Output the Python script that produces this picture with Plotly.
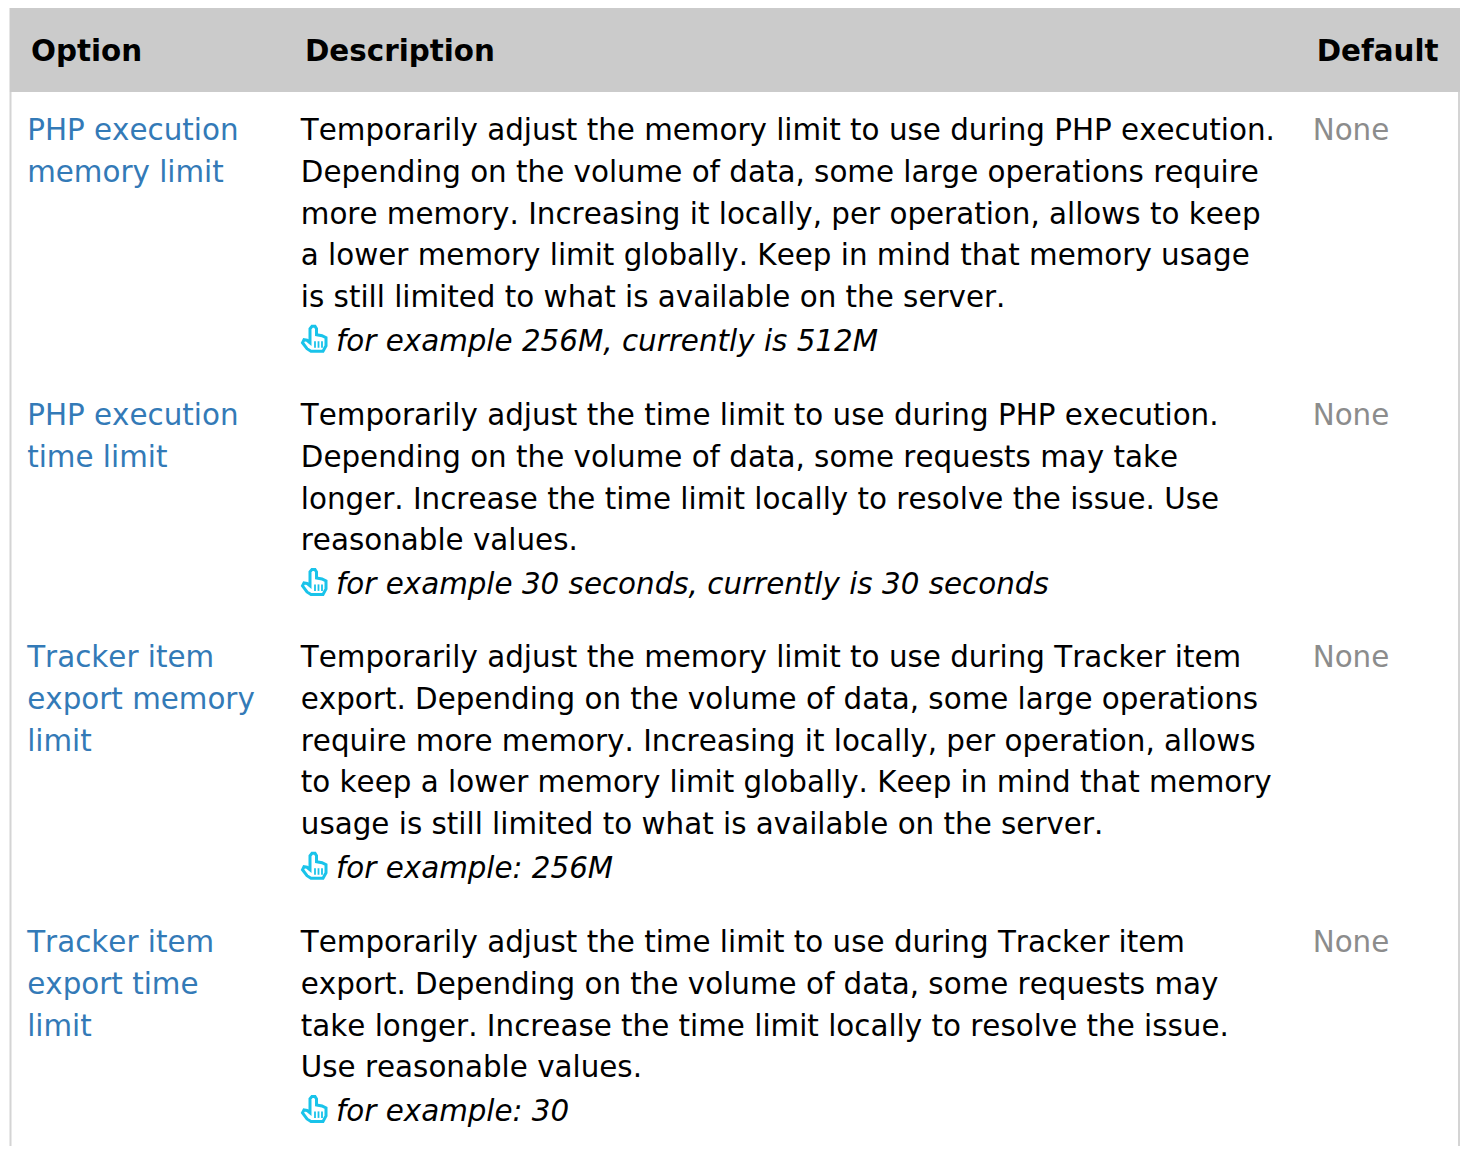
import plotly.graph_objects as go

OPTION_HEADER = "Option"
DESC_HEADER = "Description"
DEFAULT_HEADER = "Default"

option_lines = [
    ["PHP execution", "memory limit"],
    ["PHP execution", "time limit"],
    ["Tracker item", "export memory", "limit"],
    ["Tracker item", "export time", "limit"],
]
desc_lines = [
    ["Temporarily adjust the memory limit to use during PHP execution.",
     "Depending on the volume of data, some large operations require",
     "more memory. Increasing it locally, per operation, allows to keep",
     "a lower memory limit globally. Keep in mind that memory usage",
     "is still limited to what is available on the server."],
    ["Temporarily adjust the time limit to use during PHP execution.",
     "Depending on the volume of data, some requests may take",
     "longer. Increase the time limit locally to resolve the issue. Use",
     "reasonable values."],
    ["Temporarily adjust the memory limit to use during Tracker item",
     "export. Depending on the volume of data, some large operations",
     "require more memory. Increasing it locally, per operation, allows",
     "to keep a lower memory limit globally. Keep in mind that memory",
     "usage is still limited to what is available on the server."],
    ["Temporarily adjust the time limit to use during Tracker item",
     "export. Depending on the volume of data, some requests may",
     "take longer. Increase the time limit locally to resolve the issue.",
     "Use reasonable values."],
]
examples = [
    "for example 256M, currently is 512M",
    "for example 30 seconds, currently is 30 seconds",
    "for example: 256M",
    "for example: 30",
]
default_values = ["None", "None", "None", "None"]

row_starts = [132.5, 417.5, 659.5, 944.5]
LINE = 41.85
FS = 29.37
FONT = "DejaVu Sans"
X_OPT, X_DESC, X_DEF, X_ICON = 27.2, 300.8, 1312.7, 301
X_EX = 336

fig = go.Figure()

def add_text(xs, ys, texts, color, size=FS, family=FONT, bold=False, italic=False):
    fig.add_trace(go.Scatter(
        x=xs, y=ys, text=texts, mode="text", textposition="middle right",
        textfont=dict(family=family, size=size, color=color,
                      weight="bold" if bold else "normal",
                      style="italic" if italic else "normal"),
        hoverinfo="skip", showlegend=False, cliponaxis=True))

add_text([31, 305, 1316.7], [54] * 3, [OPTION_HEADER, DESC_HEADER, DEFAULT_HEADER], "#000000", bold=True)

ox, oy, ot, dx, dy, dt, ex, ey, et, nx, ny, nt = [], [], [], [], [], [], [], [], [], [], [], []
icon_ys = []
for r, start in enumerate(row_starts):
    for i, s in enumerate(option_lines[r]):
        ox.append(X_OPT); oy.append(start + i * LINE); ot.append(s)
    for i, s in enumerate(desc_lines[r]):
        dx.append(X_DESC); dy.append(start + i * LINE); dt.append(s)
    y_ex = start + len(desc_lines[r]) * LINE + 1.5
    ex.append(X_EX); ey.append(y_ex); et.append(examples[r])
    icon_ys.append(y_ex)
    nx.append(X_DEF); ny.append(start); nt.append(default_values[r])

add_text(ox, oy, ot, "#337ab7")
add_text(dx, dy, dt, "#000000")
add_text(ex, ey, et, "#000000", italic=True)
add_text(nx, ny, nt, "#8c8c8c")

shapes = [
    dict(type="rect", x0=9.5, x1=1460, y0=8, y1=92, fillcolor="#cbcbcb", line_width=0, layer="below"),
    dict(type="rect", x0=9.5, x1=11.5, y0=92, y1=1146, fillcolor="#d4d4d4", line_width=0, layer="below"),
    dict(type="rect", x0=1458, x1=1460, y0=92, y1=1146, fillcolor="#d4d4d4", line_width=0, layer="below"),
]
for yc in icon_ys:
    x0 = X_ICON
    y0 = yc - 18.5
    pts = [(9, 16), (9, 4), (11, 1.5), (14, 1.5), (15.5, 4), (15.5, 10), (21, 11), (25, 13), (25, 21),
           (22, 26.5), (10, 26.5), (6, 24), (1.5, 18), (3, 15), (6, 15.5), (9, 18)]
    path = "M " + " L ".join(f"{x0+a},{y0+b}" for a, b in pts) + " Z"
    shapes.append(dict(type="path", path=path, line=dict(color="#19c3ea", width=3), fillcolor="rgba(0,0,0,0)"))
    for a in (14, 17.5, 21):
        shapes.append(dict(type="line", x0=x0 + a, x1=x0 + a, y0=y0 + 16.5, y1=y0 + 23,
                           line=dict(color="#19c3ea", width=1.8)))

fig.update_layout(
    width=1469, height=1164, autosize=False,
    margin=dict(l=0, r=0, t=0, b=0),
    paper_bgcolor="#ffffff", plot_bgcolor="#ffffff",
    xaxis=dict(range=[0, 1469], visible=False, fixedrange=True),
    yaxis=dict(range=[1164, 0], visible=False, fixedrange=True),
    shapes=shapes,
)
fig.write_html("out.html", config={"displayModeBar": False},
               post_script=("document.body.style.margin='0';document.body.style.overflow='hidden';"
                            "var s=document.createElement('style');"
                            "s.textContent='svg text{font-kerning:none !important;}';"
                            "document.head.appendChild(s);"))
